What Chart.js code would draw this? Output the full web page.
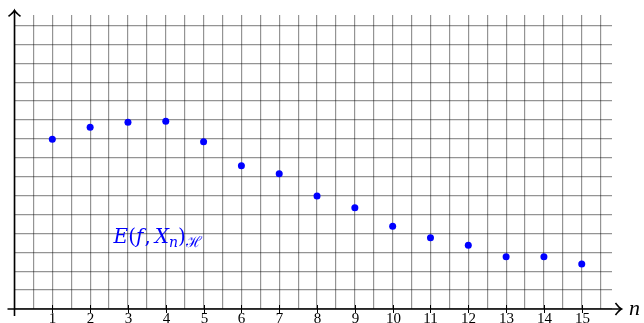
<!DOCTYPE html>
<html>
<head>
<meta charset="utf-8">
<script src="https://cdn.jsdelivr.net/npm/chart.js@4"></script>
<style>
  html, body { margin: 0; padding: 0; background: #fff; }
  #wrap { width: 644px; height: 323px; }
</style>
</head>
<body>
<div id="wrap"><canvas id="errChart"></canvas></div>
<script>
// data (y in grid units)
const nValues = [1, 2, 3, 4, 5, 6, 7, 8, 9, 10, 11, 12, 13, 14, 15];
const errValues = [8.98, 9.61, 9.88, 9.93, 8.85, 7.58, 7.16, 5.98, 5.36, 4.38, 3.77, 3.37, 2.77, 2.77, 2.38];
const xTickLabels = ['1', '2', '3', '4', '5', '6', '7', '8', '9', '10', '11', '12', '13', '14', '15'];

const serif = '"Liberation Serif", "DejaVu Serif", serif';
const mathSerif = '"DejaVu Serif", serif';

function arrowHead(ctx, x, y, dir) {
  // LaTeX-ish "->" tip; dir = 'right' or 'up'
  ctx.beginPath();
  if (dir === 'right') {
    ctx.moveTo(x - 6, y - 6);
    ctx.quadraticCurveTo(x - 2, y - 1, x, y);
    ctx.quadraticCurveTo(x - 2, y + 1, x - 6, y + 6);
  } else {
    ctx.moveTo(x - 6, y + 6);
    ctx.quadraticCurveTo(x - 1, y + 2, x, y);
    ctx.quadraticCurveTo(x + 1, y + 2, x + 6, y + 6);
  }
  ctx.stroke();
}

const axesPlugin = {
  id: 'axesPlugin',
  afterDraw(chart) {
    const ctx = chart.ctx;
    const xs = chart.scales.x, ys = chart.scales.y;
    const x0 = xs.getPixelForValue(0), y0 = ys.getPixelForValue(0);
    ctx.save();
    ctx.strokeStyle = '#000';
    ctx.lineWidth = 1.6;
    // x axis
    ctx.beginPath();
    ctx.moveTo(x0 - 7, y0);
    ctx.lineTo(xs.getPixelForValue(16.05), y0);
    ctx.stroke();
    arrowHead(ctx, xs.getPixelForValue(16.05), y0, 'right');
    // y axis
    ctx.beginPath();
    ctx.moveTo(x0, y0 + 7);
    ctx.lineTo(x0, ys.getPixelForValue(15.8));
    ctx.stroke();
    arrowHead(ctx, x0, ys.getPixelForValue(15.8), 'up');

    // tick marks and labels
    ctx.lineWidth = 1;
    ctx.fillStyle = '#000';
    ctx.font = '15px ' + serif;
    ctx.textAlign = 'center';
    ctx.textBaseline = 'alphabetic';
    nValues.forEach((n, i) => {
      const px = Math.round(xs.getPixelForValue(n)) + 0.5;
      ctx.beginPath();
      ctx.moveTo(px, y0 - 4);
      ctx.lineTo(px, y0 + 4);
      ctx.stroke();
      ctx.fillText(xTickLabels[i], px, y0 + 14);
    });

    // axis label n
    ctx.font = 'italic 22px ' + serif;
    ctx.textAlign = 'left';
    ctx.fillText('n', xs.getPixelForValue(16.25), y0 + 6);

    // series label E(f, X_n)_H
    ctx.fillStyle = '#0000ff';
    let lx = xs.getPixelForValue(2.62);
    const ly = ys.getPixelForValue(3.5);
    const parts = [
      ['italic 20px ' + mathSerif, 'E', 0, 0],
      ['20px ' + mathSerif, '(', 0, 0],
      ['italic 20px ' + mathSerif, 'f', 0, 1],
      ['20px ' + mathSerif, ',', 0, 4],
      ['italic 20px ' + mathSerif, 'X', 0, 0],
      ['italic 14px ' + mathSerif, 'n', 4, 0],
      ['20px ' + mathSerif, ')', 0, 0],
      ['15px ' + mathSerif, '\u210B', 4, 0]
    ];
    parts.forEach(([font, txt, dy, gap]) => {
      ctx.font = font;
      ctx.fillText(txt, lx, ly + dy);
      lx += ctx.measureText(txt).width + gap;
    });
    ctx.restore();
  }
};

new Chart(document.getElementById('errChart'), {
  type: 'scatter',
  data: {
    datasets: [{
      data: nValues.map((n, i) => ({ x: n, y: errValues[i] })),
      backgroundColor: '#0000ff',
      borderWidth: 0,
      pointRadius: 3.5
    }]
  },
  options: {
    responsive: true,
    maintainAspectRatio: false,
    animation: false,
    events: [],
    layout: { padding: { left: 14.5, right: 32, top: 15, bottom: 14 } },
    plugins: { legend: { display: false }, tooltip: { enabled: false } },
    scales: {
      x: {
        type: 'linear',
        min: 0,
        max: 15.8,
        border: { display: false },
        grid: { color: 'rgba(0,0,0,0.42)', lineWidth: 1.2, drawTicks: false },
        ticks: { display: false, stepSize: 0.5, includeBounds: false, autoSkip: false, maxTicksLimit: 100 }
      },
      y: {
        type: 'linear',
        min: 0,
        max: 15.55,
        border: { display: false },
        grid: { color: 'rgba(0,0,0,0.42)', lineWidth: 1.2, drawTicks: false },
        ticks: { display: false, stepSize: 1, includeBounds: false, autoSkip: false, maxTicksLimit: 100 }
      }
    }
  },
  plugins: [axesPlugin]
});
</script>
</body>
</html>
